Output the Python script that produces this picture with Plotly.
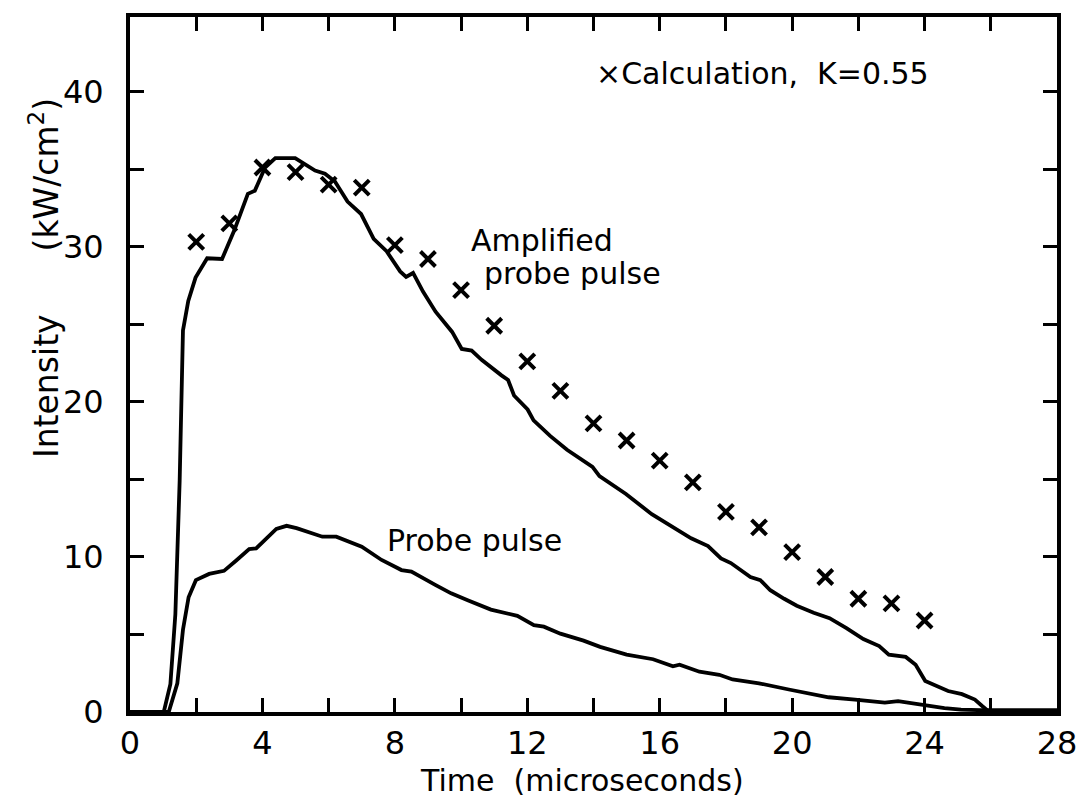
import plotly.graph_objects as go

# Amplified probe pulse (measured curve)
amp_t = [0.0, 1.02, 1.22, 1.37, 1.50, 1.60, 1.76, 1.98, 2.33, 2.78, 3.15, 3.56, 3.77, 4.08, 4.39,
         4.99, 5.59, 5.89, 6.19, 6.57, 6.98, 7.36, 7.75, 8.16, 8.34, 8.55, 8.85, 9.23, 9.73,
         10.02, 10.32, 10.62, 11.22, 11.42, 11.60, 12.01, 12.19, 12.69, 13.20, 13.97, 14.18,
         14.98, 15.76, 16.65, 16.95, 17.46, 17.85, 18.15, 18.74, 19.04, 19.34, 19.76, 20.14,
         20.65, 21.13, 21.64, 22.15, 22.63, 22.92, 23.43, 23.73, 24.02, 24.23, 24.71, 25.13,
         25.52, 25.73, 25.90, 26.5, 28.0]
amp_v = [0.0, 0.0, 1.8, 6.3, 14.9, 24.6, 26.5, 28.0, 29.25, 29.2, 31.05, 33.4, 33.6, 35.1, 35.7,
         35.7, 34.9, 34.7, 34.2, 32.9, 32.1, 30.5, 29.7, 28.4, 28.05, 28.3, 27.1, 25.8, 24.5,
         23.4, 23.3, 22.7, 21.7, 21.4, 20.4, 19.5, 18.8, 17.8, 16.9, 15.8, 15.2,
         14.05, 12.75, 11.6, 11.2, 10.7, 9.9, 9.6, 8.7, 8.5, 7.85, 7.3, 6.85,
         6.4, 6.05, 5.4, 4.7, 4.25, 3.7, 3.55, 3.05, 2.0, 1.8, 1.35, 1.15,
         0.8, 0.4, 0.1, 0.1, 0.1]

# Probe pulse (input)
probe_t = [0.0, 1.17, 1.43, 1.60, 1.77, 1.99, 2.39, 2.84, 3.20, 3.60, 3.81, 4.21, 4.42, 4.73,
           5.03, 5.81, 6.23, 7.00, 7.60, 8.20, 8.50, 9.22, 9.70, 10.20, 10.90, 11.70, 12.20,
           12.50, 13.00, 13.70, 14.20, 15.00, 15.80, 16.40, 16.60, 17.20, 17.80, 18.20, 19.00,
           19.90, 20.40, 21.10, 21.90, 22.80, 23.20, 23.90, 24.60, 25.10, 26.0, 28.0]
probe_v = [0.0, 0.0, 1.85, 5.3, 7.4, 8.5, 8.9, 9.1, 9.75, 10.5, 10.55, 11.35, 11.8, 12.0,
           11.85, 11.3, 11.3, 10.65, 9.8, 9.15, 9.05, 8.2, 7.65, 7.2, 6.6, 6.2, 5.6,
           5.5, 5.05, 4.6, 4.2, 3.7, 3.4, 2.95, 3.05, 2.6, 2.4, 2.1, 1.85,
           1.45, 1.25, 0.95, 0.8, 0.6, 0.7, 0.45, 0.25, 0.15, 0.1, 0.1]

# Calculation, K = 0.55
calc_t = [2, 3, 4, 5, 6, 7, 8, 9, 10, 11, 12, 13, 14, 15, 16, 17, 18, 19, 20, 21, 22, 23, 24]
calc_v = [30.3, 31.5, 35.1, 34.8, 34.0, 33.8, 30.1, 29.2, 27.2, 24.9, 22.6, 20.7, 18.6, 17.5,
          16.2, 14.8, 12.9, 11.9, 10.3, 8.7, 7.3, 7.0, 5.9]

x_tickvals = [0, 2, 4, 6, 8, 10, 12, 14, 16, 18, 20, 22, 24, 26, 28]
x_ticktext = ["0", "", "4", "", "8", "", "12", "", "16", "", "20", "", "24", "", "28"]
y_tickvals = [0, 5, 10, 15, 20, 25, 30, 35, 40]
y_ticktext = ["0", "", "10", "", "20", "", "30", "", "40"]

FONT = "DejaVu Sans"

fig = go.Figure()
fig.add_trace(go.Scatter(x=amp_t, y=amp_v, mode="lines",
                         line=dict(color="black", width=3.8), showlegend=False))
fig.add_trace(go.Scatter(x=probe_t, y=probe_v, mode="lines",
                         line=dict(color="black", width=3.8), showlegend=False))
fig.add_trace(go.Scatter(x=calc_t, y=calc_v, mode="markers",
                         marker=dict(symbol="x-thin", size=15, color="black",
                                     line=dict(color="black", width=4)),
                         showlegend=False))

axis_common = dict(showline=True, linecolor="black", linewidth=3.8, mirror="ticks",
                   ticks="inside", ticklen=14, tickwidth=3, tickcolor="black",
                   showgrid=False, zeroline=False,
                   tickfont=dict(family=FONT, size=32, color="black"))

fig.update_xaxes(range=[0, 28], tickvals=x_tickvals, ticktext=x_ticktext,
                 ticklabelstandoff=0, **axis_common)
fig.update_yaxes(range=[0, 44.8], tickvals=y_tickvals, ticktext=y_ticktext,
                 ticklabelstandoff=16, **axis_common)

def ann(text, x, y, size=30, xanchor="left", angle=0):
    fig.add_annotation(text=text, x=x, y=y, xref="paper", yref="paper",
                       xanchor=xanchor, yanchor="middle", showarrow=False,
                       textangle=angle,
                       font=dict(family=FONT, size=size, color="black"))

ann("×Calculation,  K=0.55", 0.500, 0.918)
ann("Amplified", 0.366, 0.679)
ann("probe pulse", 0.380, 0.631)
ann("Probe pulse", 0.275, 0.247)
ann("Time  (microseconds)", 0.488, -0.099, size=30, xanchor="center")
ann("Intensity      (kW/cm<sup>2</sup>)", -0.092, 0.624, size=33, xanchor="center", angle=-90)

fig.update_layout(width=1089, height=802, margin=dict(l=130, r=27, t=17, b=90),
                  plot_bgcolor="white", paper_bgcolor="white",
                  font=dict(family=FONT, color="black"))

fig.write_html("out.html")
